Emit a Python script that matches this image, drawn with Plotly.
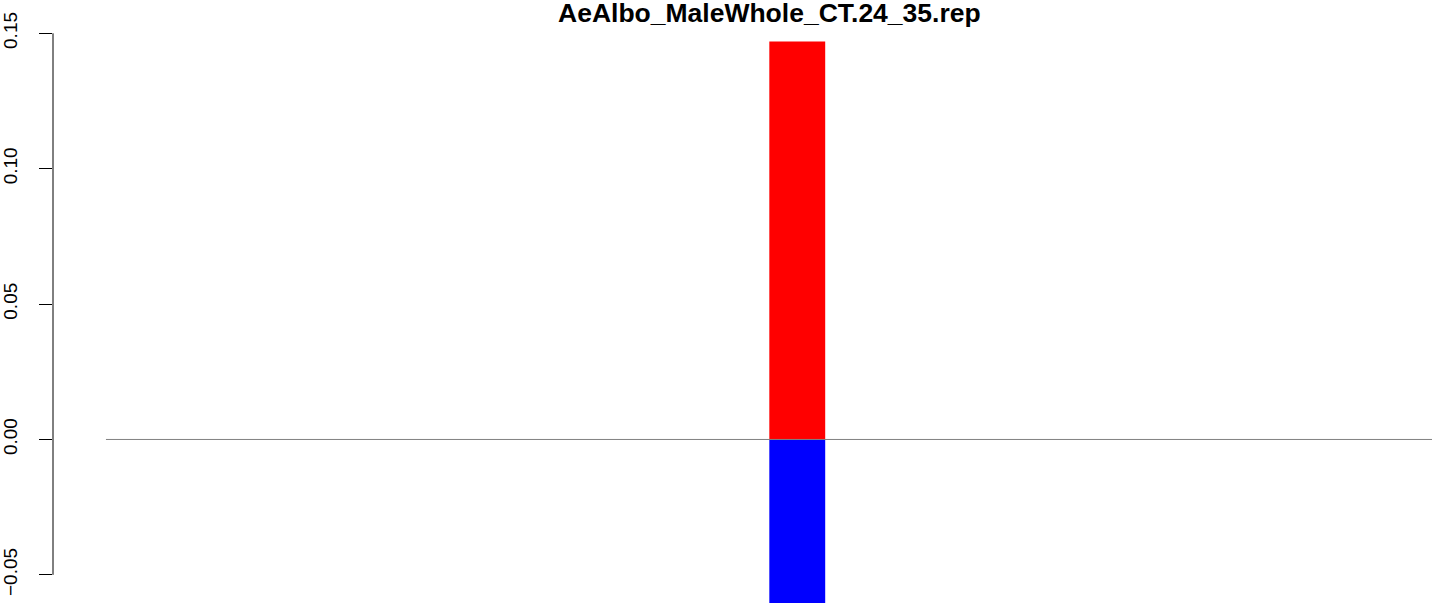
import plotly.graph_objects as go

# Data
categories = ["CT.24_35"]
positive_values = [0.147]
negative_values = [-0.062]
tick_values = [-0.05, 0.0, 0.05, 0.10, 0.15]
tick_labels = ["\u22120.05", "0.00", "0.05", "0.10", "0.15"]
title_text = "AeAlbo_MaleWhole_CT.24_35.rep"

W, H = 1444, 603
FONT = "Liberation Sans, Arial, Helvetica, sans-serif"

fig = go.Figure()
fig.add_trace(go.Bar(x=categories, y=positive_values, width=1,
                     marker=dict(color="#FF0000", line=dict(width=0)),
                     showlegend=False))
fig.add_trace(go.Bar(x=categories, y=negative_values, width=1,
                     marker=dict(color="#0000FF", line=dict(width=0)),
                     showlegend=False))

# zero reference line (spans R plot region)
fig.add_shape(type="line", xref="paper", yref="y", x0=0.0384, x1=1.0, y0=0, y1=0,
              line=dict(color="#808080", width=1))
# y axis line between first and last tick
fig.add_shape(type="line", xref="paper", yref="y", x0=0, x1=0,
              y0=tick_values[0], y1=tick_values[-1],
              line=dict(color="black", width=1))

fig.add_annotation(text="<b>" + title_text + "</b>", xref="paper", yref="paper",
                   x=0.5194, y=1, xanchor="center", yanchor="top", yshift=4,
                   showarrow=False, font=dict(family=FONT, size=26.5, color="black"))

fig.update_layout(
    width=W, height=H,
    margin=dict(l=50, r=12, t=0, b=0, pad=0),
    paper_bgcolor="white", plot_bgcolor="white",
    barmode="relative",
    font=dict(family=FONT, color="black"),
    xaxis=dict(type="category", range=[-13.32, 11.36], showticklabels=False,
               showgrid=False, zeroline=False, showline=False, ticks=""),
    yaxis=dict(range=[-0.0604, 0.1623], tickmode="array", tickvals=tick_values,
               ticktext=tick_labels, tickangle=-90, ticks="outside", ticklen=13,
               tickwidth=1, tickcolor="black", showgrid=False, zeroline=False,
               showline=False, tickfont=dict(family=FONT, size=19, color="black"),
               ticklabelstandoff=14),
)

fig.write_html("out.html", config={"displayModeBar": False},
               post_script="document.body.style.margin='0px';document.body.style.padding='0px';")
